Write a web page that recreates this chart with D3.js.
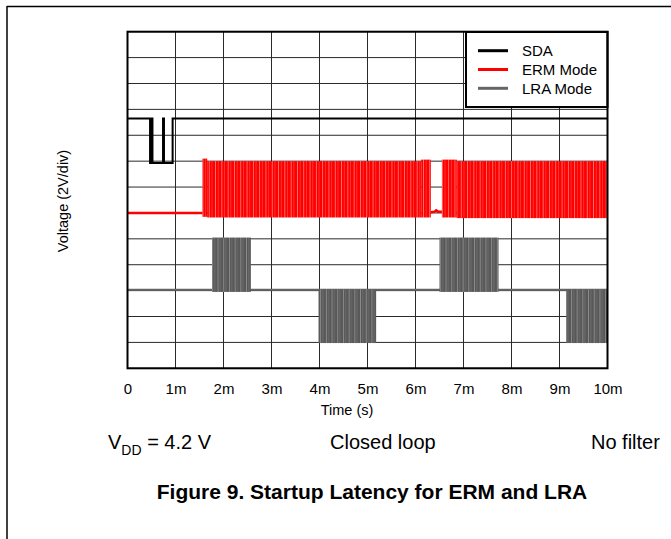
<!DOCTYPE html>
<html>
<head>
<meta charset="utf-8">
<script src="https://cdn.jsdelivr.net/npm/d3@7"></script>
<style>
  body { margin: 0; background: #fff; }
  text { font-family: "Liberation Sans", Arial, sans-serif; fill: #000; }
</style>
</head>
<body>
<svg id="chart" width="671" height="539"></svg>
<script>
// time in ms, voltage in V (2 V per division, 13 divisions)
const timeTicks = [0, 1, 2, 3, 4, 5, 6, 7, 8, 9, 10];

const sdaTrace = [
    [0, 19.3], [0.47, 19.3], [0.47, 15.85], [0.50, 15.85], [0.50, 19.3], [0.52, 19.3],
    [0.52, 15.85], [0.74, 15.85], [0.74, 19.3], [0.76, 19.3], [0.76, 15.85],
    [0.94, 15.85], [0.94, 19.3], [10, 19.3]
];

const ermBase = [[0, 12.0], [1.56, 12.0]];
const ermGap = [[6.32, 12.05], [6.40, 12.1], [6.43, 12.2], [6.47, 12.1], [6.55, 12.1]];
const ermBursts = [
    { t0: 1.56, t1: 1.66, hi: 16.2, lo: 11.7 },
    { t0: 1.66, t1: 6.12, hi: 16.0, lo: 11.65 },
    { t0: 6.12, t1: 6.32, hi: 16.12, lo: 11.65 },
    { t0: 6.55, t1: 6.86, hi: 16.12, lo: 11.65 },
    { t0: 6.86, t1: 10.0, hi: 16.0, lo: 11.6 }
];

const lraBase = [[0, 6.06], [10, 6.06]];
const lraBursts = [
    { t0: 1.76, t1: 2.57, hi: 10.1, lo: 5.9 },
    { t0: 3.98, t1: 5.18, hi: 6.1, lo: 1.95 },
    { t0: 6.50, t1: 7.73, hi: 10.1, lo: 5.9 },
    { t0: 9.14, t1: 10.0, hi: 6.1, lo: 1.95 }
];

const legendItems = ["SDA", "ERM Mode", "LRA Mode"];
const legendColors = ["#000", "#ff0000", "#666666"];

const svg = d3.select("#chart");

const x = d3.scaleLinear().domain([0, 10]).range([127.5, 607.5]);
const y = d3.scaleLinear().domain([0, 26]).range([368.3, 31.7]);

// page frame
svg.append("line").attr("x1", 7).attr("x2", 671).attr("y1", 6.5).attr("y2", 6.5)
    .attr("stroke", "#000").attr("stroke-width", 1.5);
svg.append("line").attr("x1", 7).attr("x2", 7).attr("y1", 6).attr("y2", 539)
    .attr("stroke", "#000").attr("stroke-width", 1.5);

// stripe patterns for dense bursts
const defs = svg.append("defs");
const mkPattern = (id, base, light, w) => {
    const p = defs.append("pattern").attr("id", id)
        .attr("patternUnits", "userSpaceOnUse").attr("width", w).attr("height", 10);
    p.append("rect").attr("width", w).attr("height", 10).attr("fill", base);
    p.append("rect").attr("x", 1).attr("width", 0.8).attr("height", 10).attr("fill", light).attr("opacity", 0.5);
    p.append("rect").attr("x", w * 0.6).attr("width", 0.6).attr("height", 10).attr("fill", light).attr("opacity", 0.3);
};
mkPattern("ermStripe", "#ff0000", "#ffffff", 6.3);
mkPattern("lraStripe", "#585858", "#d0d0d0", 5.7);

// grid
const grid = svg.append("g");
grid.selectAll(".vg").data(timeTicks).enter().append("line")
    .attr("x1", d => x(d)).attr("x2", d => x(d))
    .attr("y1", y(26)).attr("y2", y(0))
    .attr("stroke", "#2a2a2a").attr("stroke-width", 1);
grid.selectAll(".hg").data(y.ticks(13)).enter().append("line")
    .attr("x1", x(0)).attr("x2", x(10))
    .attr("y1", d => y(d)).attr("y2", d => y(d))
    .attr("stroke", "#2a2a2a").attr("stroke-width", 1);

const line = d3.line().x(d => x(d[0])).y(d => y(d[1]));

// LRA
svg.append("path").datum(lraBase).attr("d", line)
    .attr("fill", "none").attr("stroke", "#666").attr("stroke-width", 2);
svg.selectAll(".lra").data(lraBursts).enter().append("rect")
    .attr("x", d => x(d.t0)).attr("width", d => x(d.t1) - x(d.t0))
    .attr("y", d => y(d.hi)).attr("height", d => y(d.lo) - y(d.hi))
    .attr("fill", "url(#lraStripe)");

// ERM
[ermBase, ermGap].forEach(seg => {
    svg.append("path").datum(seg).attr("d", line)
        .attr("fill", "none").attr("stroke", "#ff0000").attr("stroke-width", 2.5);
});
svg.selectAll(".erm").data(ermBursts).enter().append("rect")
    .attr("x", d => x(d.t0)).attr("width", d => x(d.t1) - x(d.t0))
    .attr("y", d => y(d.hi)).attr("height", d => y(d.lo) - y(d.hi))
    .attr("fill", "url(#ermStripe)");

// SDA
svg.append("path").datum(sdaTrace).attr("d", line)
    .attr("fill", "none").attr("stroke", "#000").attr("stroke-width", 2);

// legend
const legend = svg.append("g");
legend.append("rect").attr("x", 466).attr("y", 32).attr("width", 141.5).attr("height", 75)
    .attr("fill", "#fff").attr("stroke", "#000").attr("stroke-width", 2);
legend.selectAll("line").data(legendItems).enter().append("line")
    .attr("x1", 478).attr("x2", 508)
    .attr("y1", (d, i) => 50.7 + i * 18.8).attr("y2", (d, i) => 50.7 + i * 18.8)
    .attr("stroke", (d, i) => legendColors[i]).attr("stroke-width", 3);
legend.selectAll("text").data(legendItems).enter().append("text")
    .attr("x", 522).attr("y", (d, i) => 56 + i * 18.8)
    .attr("font-size", 15).text(d => d);

// plot border
svg.append("rect").attr("x", x(0)).attr("y", y(26))
    .attr("width", x(10) - x(0)).attr("height", y(0) - y(26))
    .attr("fill", "none").attr("stroke", "#000").attr("stroke-width", 2);

// x axis labels
const xAxis = svg.append("g")
    .attr("transform", `translate(0, ${y(0)})`)
    .call(d3.axisBottom(x).tickValues(timeTicks).tickSize(0).tickPadding(15)
        .tickFormat(d => d === 0 ? "0" : d + "m"));
xAxis.select(".domain").remove();
xAxis.selectAll("text").attr("font-size", 15)
    .attr("font-family", "\"Liberation Sans\", Arial, sans-serif").attr("fill", "#000");

svg.append("text").attr("x", 347).attr("y", 415).attr("text-anchor", "middle")
    .attr("font-size", 14.5).text("Time (s)");

svg.append("text").attr("transform", "translate(68, 201) rotate(-90)")
    .attr("text-anchor", "middle").attr("font-size", 14.5).text("Voltage (2V/div)");

// conditions
const vdd = svg.append("text").attr("x", 108).attr("y", 449).attr("font-size", 20);
vdd.append("tspan").text("V");
vdd.append("tspan").attr("dy", 6).attr("font-size", 14).text("DD");
vdd.append("tspan").attr("dy", -6).text(" = 4.2 V");
svg.append("text").attr("x", 330).attr("y", 449).attr("font-size", 20).text("Closed loop");
svg.append("text").attr("x", 591).attr("y", 449).attr("font-size", 20).text("No filter");

svg.append("text").attr("x", 372).attr("y", 499).attr("text-anchor", "middle")
    .attr("font-size", 21).attr("font-weight", "bold")
    .text("Figure 9. Startup Latency for ERM and LRA");
</script>
</body>
</html>
